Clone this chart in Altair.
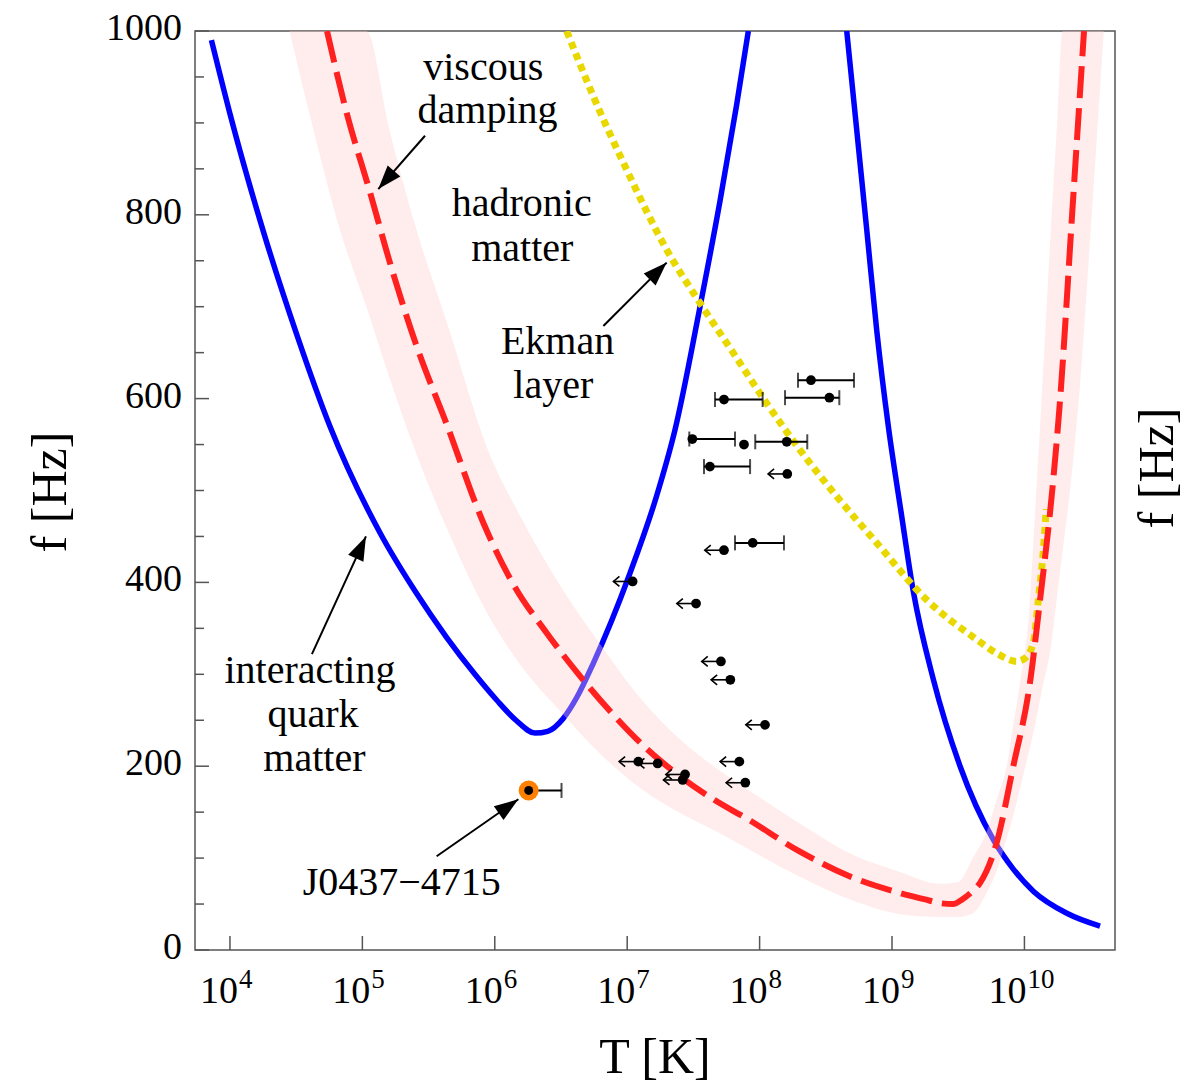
import altair as alt
import pandas as pd

SERIF = "Liberation Serif"
LOGT_MIN, LOGT_MAX = 3.736, 10.684
F_MIN, F_MAX = 0, 1000

# ---- interacting quark matter (blue), two branches: log10 T, f [Hz]
blue_a_logT = [3.86, 4.00, 4.252, 4.504, 4.755, 5.133, 5.40, 5.637, 5.85, 6.014, 6.16, 6.304, 6.40, 6.517, 6.62, 6.744, 7.021, 7.222, 7.361, 7.55, 7.701, 7.827, 7.915]
blue_a_f = [990, 910, 782, 670, 570, 454, 390, 340, 300, 272, 250, 236, 238, 252, 275, 312, 410, 494, 566, 700, 815, 920, 1000]
blue_b_logT = [8.658, 8.733, 8.809, 8.884, 8.972, 9.07, 9.161, 9.311, 9.514, 9.765, 9.916, 10.067, 10.32, 10.571]
blue_b_f = [1000, 893, 784, 675, 570, 475, 390, 295, 200, 120, 88, 64, 40, 26]

# ---- Ekman layer (yellow dotted)
yellow_logT = [6.543, 6.744, 6.996, 7.298, 7.55, 7.80, 8.053, 8.30, 8.557, 8.884, 9.262, 9.638, 9.80, 9.942, 10.00, 10.067, 10.105, 10.14, 10.165]
yellow_f = [1000, 929, 849, 762, 704, 650, 595, 545, 498, 443, 381, 338, 322, 314, 317, 334, 381, 430, 480]

# ---- viscous damping, hadronic matter (red dashed) and its uncertainty band
red_logT = [4.733, 4.881, 5.057, 5.208, 5.410, 5.637, 5.91, 6.140, 6.392, 6.644, 6.895, 7.147, 7.399, 7.651, 7.903, 8.305, 8.683, 9.06, 9.25, 9.363, 9.46, 9.53, 9.60, 9.665, 9.791, 9.916, 10.042, 10.118, 10.21, 10.27, 10.36, 10.45]
red_f = [1000, 911, 825, 748, 657, 572, 466, 398, 345, 298, 256, 219, 189, 164, 143, 107, 80, 62, 55, 51, 50, 55, 63, 73, 117, 200, 291, 381, 500, 600, 800, 1000]
band_logT = [4.45, 4.63, 4.83, 5.03, 5.20, 5.40, 5.64, 5.96, 6.20, 6.50, 6.80, 7.10, 7.40, 7.70, 8.00, 8.30, 8.70, 9.06,
             9.36, 9.50, 9.61, 9.714, 9.80, 9.866, 9.916, 9.967, 10.042, 10.067, 10.13, 10.206, 10.243, 10.288, 10.344, 10.411, 10.508, 10.599]
band_lo = [1000, 893, 784, 700, 625, 543, 458, 362, 309, 259, 213, 176, 149, 127, 103, 80, 54, 39,
           36, 36, 40, 62, 90, 122, 146, 176, 221, 236, 281, 336, 381, 434, 500, 600, 800, 1000]
band_hi = [1000, 1000, 1000, 1000, 895, 788, 682, 540, 470, 395, 332, 274, 229, 195, 166, 138, 104, 85,
           72, 74, 100, 128, 168, 200, 245, 291, 381, 443, 600, 800, 890, 1000, 1000, 1000, 1000, 1000]

# ---- pulsars with temperature ranges
err_logT = [8.388, 7.731, 8.527, 7.492, 8.205, 7.625, 7.948]
err_f = [620, 599, 601, 556, 553, 526, 443]
err_lo = [8.29, 7.663, 8.192, 7.469, 7.967, 7.580, 7.814]
err_hi = [8.713, 8.023, 8.602, 7.814, 8.36, 7.928, 8.184]
plain_logT = [7.882]
plain_f = [550]
# ---- pulsars with upper limits on T
ul_logT = [8.209, 7.731, 7.041, 7.520, 7.708, 7.779, 8.041, 7.847, 7.892, 7.084, 7.230, 7.437, 7.419]
ul_f = [518, 435, 401, 377, 314, 294, 245, 205, 182, 205, 203, 191, 185]
UL_ARROW_DEC = 0.145
# ---- J0437-4715
j_logT = [6.256]
j_f = [173.6]
j_hi = [6.504]

# ---- annotations
ann_text = ["viscous", "damping", "hadronic", "matter", "Ekman", "layer", "interacting", "quark", "matter", "J0437\u22124715"]
ann_logT = [5.913, 5.945, 6.203, 6.208, 6.474, 6.442, 4.604, 4.627, 4.638, 5.297]
ann_f = [947, 900, 799, 750, 648, 601, 291, 243, 195, 60]
arr_tail_logT = [5.473, 6.820, 4.619, 5.561]
arr_tail_f = [886, 679, 322, 102]
arr_tip_logT = [5.120, 7.298, 5.027, 6.178]
arr_tip_f = [828, 748, 450, 164]
arr_angle = [221, 45, 25, 55]

xtick_exp = [4, 5, 6, 7, 8, 9, 10]
ytick_major = [0, 200, 400, 600, 800, 1000]
ytick_minor = [50, 100, 150, 250, 300, 350, 450, 500, 550, 650, 700, 750, 850, 900, 950]
x_title = "T [K]"
y_title = "f [Hz]"


def T(lt):
    return [10 ** v for v in lt]


xs = alt.Scale(type="log", domain=[10 ** LOGT_MIN, 10 ** LOGT_MAX], nice=False)
ys = alt.Scale(domain=[F_MIN, F_MAX], nice=False, zero=False)


def X(field="T"):
    return alt.X(f"{field}:Q", scale=xs, axis=None)


def Y(field="f"):
    return alt.Y(f"{field}:Q", scale=ys, axis=None)


blue_df = pd.DataFrame({"T": T(blue_a_logT) + T(blue_b_logT), "f": blue_a_f + blue_b_f,
                        "seg": ["a"] * len(blue_a_f) + ["b"] * len(blue_b_f)})
blue = alt.Chart(blue_df).mark_line(color="#0000ff", strokeWidth=5.5, interpolate="monotone", clip=True).encode(
    x=X(), y=Y(), detail="seg:N")

band_df = pd.DataFrame({"T": T(band_logT), "lo": band_lo, "hi": band_hi})
band = alt.Chart(band_df).mark_area(color="#ffcccc", opacity=0.38, interpolate="monotone", clip=True).encode(
    x=X(), y=Y("lo"), y2=alt.Y2("hi:Q"))

yellow_df = pd.DataFrame({"T": T(yellow_logT), "f": yellow_f})
yellow = alt.Chart(yellow_df).mark_line(color="#e8d800", strokeWidth=7, strokeDash=[7, 5],
                                         interpolate="monotone", clip=True).encode(x=X(), y=Y())

red_df = pd.DataFrame({"T": T(red_logT), "f": red_f})
red = alt.Chart(red_df).mark_line(color="#ff2020", strokeWidth=6, strokeDash=[32, 10],
                                   interpolate="monotone", clip=True).encode(x=X(), y=Y())

# ticks (inward)
xt_df = pd.DataFrame({"T": [10 ** e for e in xtick_exp], "exp": [str(e) for e in xtick_exp]})
xticks = alt.Chart(xt_df).mark_rule(color="#555", strokeWidth=1.5).encode(
    x=X(), y=alt.value(919), y2=alt.value(905))
ymaj_df = pd.DataFrame({"f": ytick_major, "lab": [str(v) for v in ytick_major]})
ytmaj = alt.Chart(ymaj_df).mark_rule(color="#555", strokeWidth=1.5).encode(
    y=Y(), x=alt.value(0), x2=alt.value(14))
ytmin = alt.Chart(pd.DataFrame({"f": ytick_minor})).mark_rule(color="#555", strokeWidth=1.5).encode(
    y=Y(), x=alt.value(0), x2=alt.value(9))
ylabels = alt.Chart(ymaj_df).mark_text(font=SERIF, fontSize=38, align="right", baseline="middle",
                                       dy=-2, color="black").encode(y=Y(), x=alt.value(-13), text="lab:N")

# x tick labels 10^n
xl_base1 = alt.Chart(xt_df).transform_filter("datum.exp != '10'").mark_text(
    text="10", font=SERIF, fontSize=38, align="right", baseline="alphabetic", dx=8, color="black").encode(
    x=X(), y=alt.value(972))
xl_exp1 = alt.Chart(xt_df).transform_filter("datum.exp != '10'").mark_text(
    font=SERIF, fontSize=27, align="left", baseline="alphabetic", dx=9, color="black").encode(
    x=X(), y=alt.value(957), text="exp:N")
xl_base2 = alt.Chart(xt_df).transform_filter("datum.exp == '10'").mark_text(
    text="10", font=SERIF, fontSize=38, align="right", baseline="alphabetic", dx=2, color="black").encode(
    x=X(), y=alt.value(972))
xl_exp2 = alt.Chart(xt_df).transform_filter("datum.exp == '10'").mark_text(
    font=SERIF, fontSize=27, align="left", baseline="alphabetic", dx=3, color="black").encode(
    x=X(), y=alt.value(957), text="exp:N")

# axis titles
titles_df = pd.DataFrame({"t": [y_title]})
ltitle = alt.Chart(titles_df).mark_text(
    font=SERIF, fontSize=50, angle=270, align="center", baseline="alphabetic", color="black").encode(
    x=alt.value(-129), y=alt.value(461), text="t:N")
rtitle = alt.Chart(titles_df).mark_text(
    font=SERIF, fontSize=50, angle=270, align="center", baseline="alphabetic", color="black").encode(
    x=alt.value(978), y=alt.value(437), text="t:N")
btitle = alt.Chart(pd.DataFrame({"t": [x_title]})).mark_text(
    font=SERIF, fontSize=50, align="center", baseline="alphabetic", color="black").encode(
    x=alt.value(460), y=alt.value(1042), text="t:N")

# error bars
err_df = pd.DataFrame({"T": T(err_logT), "f": err_f, "lo": T(err_lo), "hi": T(err_hi)})
err_rule = alt.Chart(err_df).mark_rule(color="black", strokeWidth=2).encode(
    x=X("lo"), x2=alt.X2("hi:Q"), y=Y())
cap_lo = alt.Chart(err_df).mark_tick(color="black", orient="vertical", size=15, thickness=2).encode(x=X("lo"), y=Y())
cap_hi = alt.Chart(err_df).mark_tick(color="black", orient="vertical", size=15, thickness=2).encode(x=X("hi"), y=Y())

ul_df = pd.DataFrame({"T": T(ul_logT), "f": ul_f})
ul_df["Tt"] = ul_df["T"] / 10 ** UL_ARROW_DEC
ul_rule = alt.Chart(ul_df).mark_rule(color="black", strokeWidth=1.6).encode(x=X("Tt"), x2=alt.X2("T:Q"), y=Y())
ul_head = alt.Chart(ul_df).mark_point(shape="M1.2,-1L0,0L1.2,1", size=100, filled=False, color="black",
                                       strokeWidth=1.6, opacity=1).encode(x=X("Tt"), y=Y())

dots_df = pd.DataFrame({"T": T(err_logT) + T(plain_logT) + T(ul_logT), "f": err_f + plain_f + ul_f})
dots = alt.Chart(dots_df).mark_circle(color="black", size=95, opacity=1).encode(x=X(), y=Y())

j_df = pd.DataFrame({"T": T(j_logT), "f": j_f, "hi": T(j_hi)})
j_rule = alt.Chart(j_df).mark_rule(color="black", strokeWidth=2).encode(x=X(), x2=alt.X2("hi:Q"), y=Y())
j_cap = alt.Chart(j_df).mark_tick(color="black", orient="vertical", size=15, thickness=2).encode(x=X("hi"), y=Y())
j_ring = alt.Chart(j_df).mark_circle(color="#ff8000", size=400, opacity=1).encode(x=X(), y=Y())
j_dot = alt.Chart(j_df).mark_circle(color="black", size=80, opacity=1).encode(x=X(), y=Y())

# annotations
ann_df = pd.DataFrame({"T": T(ann_logT), "f": ann_f, "text": ann_text})
ann = alt.Chart(ann_df).mark_text(font=SERIF, fontSize=40, align="center", baseline="alphabetic",
                                   color="black").encode(x=X(), y=Y(), text="text:N")
arr_df = pd.DataFrame({"T": T(arr_tail_logT), "f": arr_tail_f, "T2": T(arr_tip_logT), "f2": arr_tip_f,
                       "ang": arr_angle})
arr_line = alt.Chart(arr_df).mark_rule(color="black", strokeWidth=2).encode(
    x=X(), y=Y(), x2=alt.X2("T2:Q"), y2=alt.Y2("f2:Q"))
arr_head = alt.Chart(arr_df).mark_point(shape="M0,0L-0.7,2L0.7,2Z", size=576, filled=True, color="black",
                                         opacity=1).encode(
    x=X("T2"), y=Y("f2"), angle=alt.Angle("ang:Q", scale=None))

chart = alt.layer(
    blue, band, yellow, red,
    xticks, ytmaj, ytmin, ylabels,
    err_rule, cap_lo, cap_hi, ul_rule, ul_head, dots,
    j_rule, j_cap, j_ring, j_dot,
    arr_line, arr_head, ann,
    xl_base1, xl_exp1, xl_base2, xl_exp2, ltitle, rtitle, btitle,
).properties(
    width=920, height=919,
    padding={"left": 195, "top": 31, "right": 70, "bottom": 136},
    autosize=alt.AutoSizeParams(type="none"),
    background="white",
).configure_view(stroke="#555", strokeWidth=1.5)

chart.save("out.html", embed_options={"renderer": "svg", "actions": False})
